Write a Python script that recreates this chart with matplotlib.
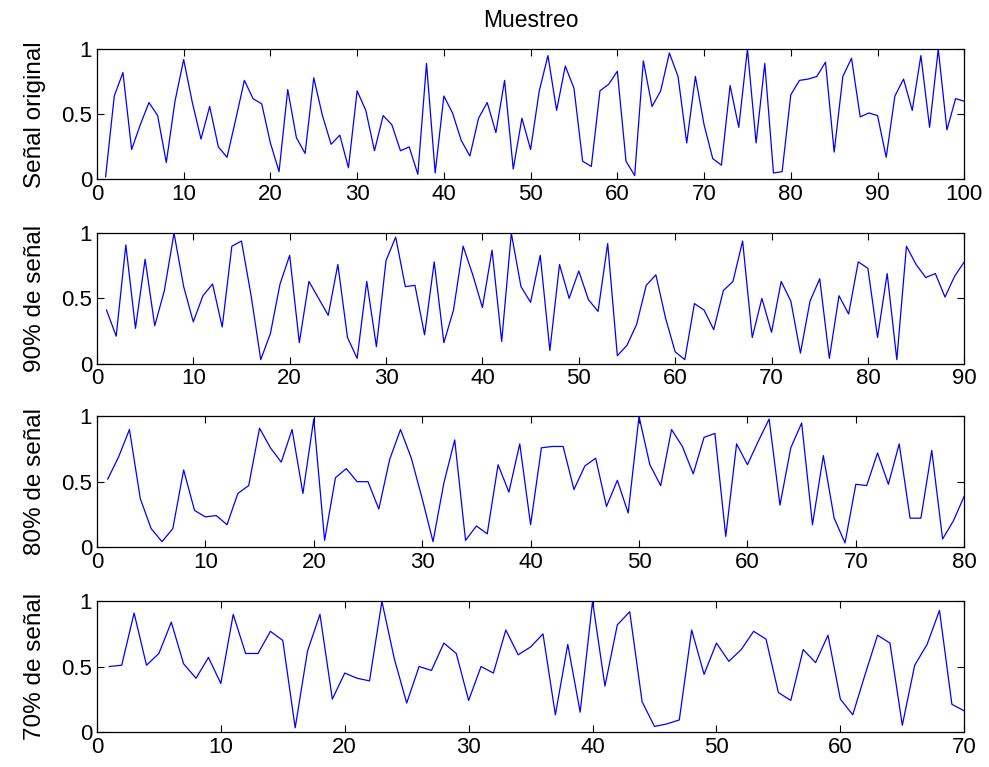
import numpy as np
import matplotlib
matplotlib.use("Agg")
from matplotlib import pyplot as plt
from matplotlib.ticker import FormatStrFormatter

plt.rcParams['font.family'] = ['Liberation Sans', 'DejaVu Sans']
plt.rcParams['font.size'] = 16

# senal original (100 muestras)
s100 = [0.02, 0.64, 0.82, 0.23, 0.42, 0.59, 0.49, 0.13, 0.60, 0.92,
        0.59, 0.31, 0.56, 0.25, 0.17, 0.46, 0.76, 0.62, 0.58, 0.28,
        0.06, 0.69, 0.32, 0.20, 0.78, 0.49, 0.27, 0.34, 0.09, 0.68,
        0.53, 0.22, 0.49, 0.42, 0.22, 0.25, 0.04, 0.89, 0.05, 0.64,
        0.51, 0.30, 0.18, 0.47, 0.59, 0.36, 0.76, 0.08, 0.47, 0.23,
        0.68, 0.95, 0.53, 0.87, 0.70, 0.14, 0.10, 0.68, 0.73, 0.83,
        0.14, 0.03, 0.91, 0.56, 0.68, 0.97, 0.79, 0.28, 0.79, 0.42,
        0.16, 0.11, 0.72, 0.40, 1.00, 0.28, 0.89, 0.05, 0.06, 0.65,
        0.76, 0.77, 0.79, 0.90, 0.21, 0.79, 0.93, 0.48, 0.51, 0.49,
        0.17, 0.64, 0.77, 0.53, 0.95, 0.40, 1.00, 0.38, 0.62, 0.60]

# 90% de la senal
s90 = [0.41, 0.21, 0.91, 0.27, 0.80, 0.29, 0.56, 1.00, 0.59, 0.32,
       0.52, 0.61, 0.28, 0.90, 0.94, 0.52, 0.03, 0.23, 0.61, 0.83,
       0.16, 0.63, 0.50, 0.37, 0.76, 0.20, 0.04, 0.63, 0.13, 0.79,
       0.97, 0.59, 0.60, 0.22, 0.78, 0.16, 0.41, 0.90, 0.68, 0.43,
       0.87, 0.17, 1.00, 0.59, 0.47, 0.83, 0.10, 0.76, 0.50, 0.71,
       0.49, 0.40, 0.92, 0.06, 0.14, 0.30, 0.60, 0.68, 0.35, 0.09,
       0.03, 0.46, 0.41, 0.26, 0.56, 0.63, 0.94, 0.20, 0.50, 0.24,
       0.63, 0.48, 0.08, 0.48, 0.65, 0.04, 0.52, 0.38, 0.78, 0.73,
       0.20, 0.69, 0.03, 0.90, 0.76, 0.66, 0.69, 0.51, 0.67, 0.78]

# 80% de la senal
s80 = [0.52, 0.69, 0.90, 0.37, 0.14, 0.04, 0.14, 0.59, 0.28, 0.23,
       0.24, 0.17, 0.41, 0.47, 0.91, 0.76, 0.65, 0.90, 0.41, 0.98,
       0.05, 0.53, 0.60, 0.50, 0.50, 0.29, 0.67, 0.90, 0.68, 0.37,
       0.04, 0.49, 0.82, 0.05, 0.16, 0.10, 0.63, 0.42, 0.79, 0.17,
       0.76, 0.77, 0.77, 0.44, 0.62, 0.68, 0.31, 0.51, 0.26, 1.00,
       0.63, 0.47, 0.90, 0.77, 0.56, 0.84, 0.87, 0.08, 0.79, 0.63,
       0.81, 0.98, 0.32, 0.76, 0.95, 0.17, 0.70, 0.22, 0.03, 0.48,
       0.47, 0.72, 0.48, 0.79, 0.22, 0.22, 0.74, 0.06, 0.20, 0.39]

# 70% de la senal
s70 = [0.50, 0.51, 0.91, 0.51, 0.60, 0.84, 0.52, 0.41, 0.57, 0.37,
       0.90, 0.60, 0.60, 0.77, 0.70, 0.03, 0.62, 0.90, 0.25, 0.45,
       0.41, 0.39, 1.00, 0.56, 0.22, 0.50, 0.47, 0.68, 0.60, 0.24,
       0.50, 0.45, 0.78, 0.59, 0.65, 0.75, 0.13, 0.67, 0.15, 1.00,
       0.35, 0.82, 0.92, 0.23, 0.04, 0.06, 0.09, 0.78, 0.44, 0.68,
       0.54, 0.63, 0.77, 0.71, 0.30, 0.24, 0.63, 0.53, 0.74, 0.25,
       0.13, 0.44, 0.74, 0.68, 0.05, 0.51, 0.67, 0.93, 0.21, 0.16]

series = [s100, s90, s80, s70]
ylabels = ['Señal original', '90% de señal', '80% de señal', '70% de señal']
xmax = [100, 90, 80, 70]

fig = plt.figure(figsize=(9.89, 7.67), dpi=100)
bottoms = [0.766, 0.526, 0.287, 0.046]
for i in range(4):
    ax = fig.add_axes([0.098, bottoms[i], 0.877, 0.170])
    y = np.array(series[i])
    n = np.arange(1, len(y) + 1)
    ax.plot(n, y, color='blue', lw=0.9)
    ax.set_xlim(0, xmax[i])
    ax.set_ylim(0, 1)
    ax.set_xticks(np.arange(0, xmax[i] + 1, 10))
    ax.set_yticks([0, 0.5, 1])
    ax.yaxis.set_major_formatter(FormatStrFormatter('%g'))
    ax.tick_params(direction='in', top=True, right=True, length=5, width=0.8)
    for sp in ax.spines.values():
        sp.set_linewidth(0.9)
    ax.set_ylabel(ylabels[i], fontsize=17.5, labelpad=11)
    if i == 0:
        ax.set_title('Muestreo', fontsize=16.5, pad=16)

fig.savefig('out.png', dpi=100)
